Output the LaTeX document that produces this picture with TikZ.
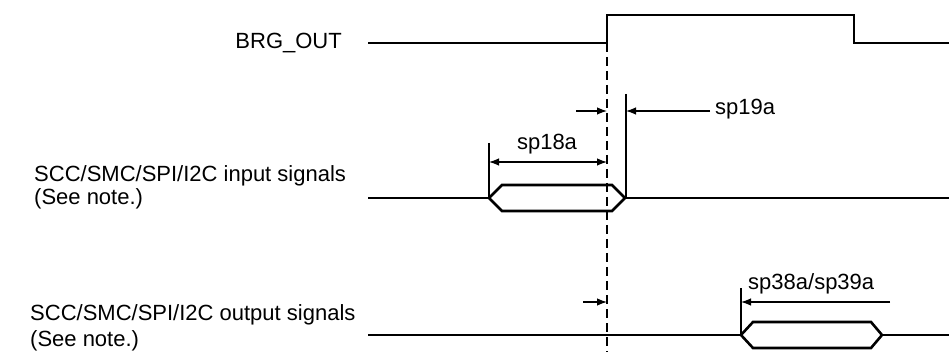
\documentclass[tikz,border=0pt]{standalone}
\usepackage{fontspec}
\setmainfont{Liberation Sans}
\usetikzlibrary{arrows.meta}
\begin{document}
\begin{tikzpicture}[x=1pt,y=-1pt,
  lbl/.style={font=\fontsize{22}{26}\selectfont, inner sep=0pt},
  wave/.style={line width=2.6pt, line join=miter},
  bus/.style={line width=2.6pt, line join=miter},
  sig/.style={line width=1.2pt},
  ext/.style={line width=1.2pt},
  dim/.style={line width=1.2pt, -{Latex[length=10pt,width=7.5pt]}},
  dimboth/.style={line width=1.2pt, {Latex[length=10pt,width=7.5pt]}-{Latex[length=10pt,width=7.5pt]}},
  dashline/.style={line width=1.2pt, dash pattern=on 9pt off 5pt}]
\useasboundingbox (0,0) rectangle (949,352);

% BRG_OUT waveform
\coordinate (b0) at (368,43);
\coordinate (b1) at (607,43);
\coordinate (b2) at (607,15);
\coordinate (b3) at (854,15);
\coordinate (b4) at (854,43);
\coordinate (b5) at (949,43);
\draw[wave] (b0) -- (b1) -- (b2) -- (b3) -- (b4) -- (b5);
\node[lbl, anchor=base east] (brg) at (342,49) {BRG\_OUT};

% reference dashed line
\coordinate (d1) at (607,352);
\draw[dashline] (b1) -- (d1);

% input signals
\coordinate (i0) at (368,198);
\coordinate (iL) at (489,198);
\coordinate (iR) at (625,198);
\coordinate (i9) at (949,198);
\draw[sig] (i0) -- (iL);
\draw[sig] (iR) -- (i9);
\draw[bus] (iL) -- (502,185) -- (612,185) -- (iR) -- (612,211) -- (502,211) -- cycle;
\node[lbl, anchor=base west] (in1) at (34,182) {SCC/SMC/SPI/I2C input signals};
\node[lbl, anchor=base west] (in2) at (34,205) {(See note.)};

% sp18a
\coordinate (e18) at (489,143);
\draw[ext] (e18) -- (iL);
\coordinate (a18l) at (489,162);
\coordinate (a18r) at (607,162);
\draw[dimboth] (a18l) -- (a18r);
\node[lbl, anchor=base] (sp18) at (547,150) {sp18a};

% sp19a
\coordinate (e19) at (626,94);
\coordinate (e19b) at (626,198);
\draw[ext] (e19) -- (e19b);
\coordinate (a19s) at (576,111);
\coordinate (a19t) at (607,111);
\draw[dim] (a19s) -- (a19t);
\coordinate (a19r) at (710,111);
\coordinate (a19e) at (626,111);
\draw[dim] (a19r) -- (a19e);
\node[lbl, anchor=base west] (sp19) at (715,115) {sp19a};

% output signals
\coordinate (o0) at (368,335);
\coordinate (oL) at (741,335);
\coordinate (oR) at (882,335);
\coordinate (o9) at (949,335);
\draw[sig] (o0) -- (oL);
\draw[sig] (oR) -- (o9);
\draw[bus] (oL) -- (753,322) -- (871,322) -- (oR) -- (871,348) -- (753,348) -- cycle;
\node[lbl, anchor=base west] (out1) at (30,320) {SCC/SMC/SPI/I2C output signals};
\node[lbl, anchor=base west] (out2) at (30,346) {(See note.)};

% sp38a/sp39a
\coordinate (e38) at (741,288);
\draw[ext] (e38) -- (oL);
\coordinate (a38r) at (890,302);
\coordinate (a38e) at (741,302);
\draw[dim] (a38r) -- (a38e);
\coordinate (a38s) at (583,302);
\coordinate (a38t) at (607,302);
\draw[dim] (a38s) -- (a38t);
\node[lbl, anchor=base west] (sp38) at (748,289) {sp38a/sp39a};
\end{tikzpicture}
\end{document}
